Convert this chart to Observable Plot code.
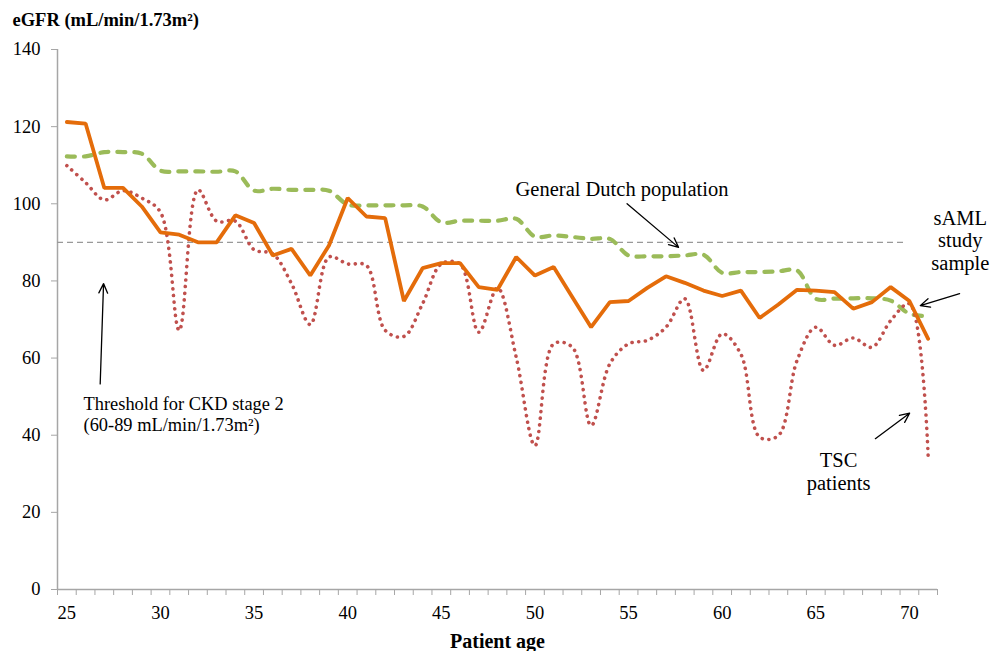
<!DOCTYPE html>
<html>
<head>
<meta charset="utf-8">
<script src="https://cdn.jsdelivr.net/npm/d3@7"></script>
<script src="https://cdn.jsdelivr.net/npm/@observablehq/plot@0.6"></script>
<style>
  html, body { margin: 0; padding: 0; background: #fff; }
  svg { display: block; }
</style>
</head>
<body>
<div id="chart"></div>
<script>
// Categories: patient age
const ages = [25,26,27,28,29,30,31,32,33,34,35,36,37,38,39,40,41,42,43,44,45,46,47,48,49,50,51,52,53,54,55,56,57,58,59,60,61,62,63,64,65,66,67,68,69,70,71];

// eGFR (mL/min/1.73m²) series
const samlStudy = [121.2,120.8,104.1,104.1,99.3,92.6,92.0,90.0,90.0,97.0,95.0,86.6,88.3,81.4,89.2,101.5,96.7,96.3,74.8,83.3,84.6,84.6,78.4,77.7,86.2,81.4,83.6,75.8,68.0,74.5,74.8,78.2,81.2,79.5,77.5,76.1,77.5,70.4,73.9,77.7,77.5,77.1,72.8,74.5,78.4,74.8,65.0];
const dutchPopulation = [112.3,112.3,113.4,113.4,113.0,108.6,108.4,108.4,108.3,108.4,103.4,103.9,103.6,103.6,103.4,99.8,99.6,99.6,99.6,99.3,95.2,95.6,95.6,95.6,96.1,91.5,91.8,91.4,90.9,90.9,86.6,86.4,86.4,86.6,86.8,82.1,82.3,82.3,82.5,82.7,75.4,75.4,75.5,75.5,74.9,71.5,70.9];
const tscPatients = [109.9,105.5,101.0,103.4,101.5,97.8,67.2,103.6,95.5,95.5,88.1,87.0,79.3,68.7,86.2,84.4,84.0,67.2,65.6,74.1,84.4,84.4,66.7,78.2,60.2,37.3,63.7,62.8,42.5,58.5,63.7,64.6,68.0,75.4,56.8,66.3,61.0,39.5,39.9,59.4,68.0,63.3,65.2,62.8,69.7,74.1,34.7];

// Tick labels
const xTickLabels = [25,30,35,40,45,50,55,60,65,70];
const yTickLabels = [0,20,40,60,80,100,120,140];

// Threshold (CKD stage 2)
const thresholdValue = [90];
const thresholdEnd = 69.8;

// Annotations (in data units: age, eGFR)
const textNotes = [
  {x: 54.65, y: 103.6, text: "General Dutch population", anchor: "middle"},
  {x: 72.72, y: 96.2, text: "sAML", anchor: "middle"},
  {x: 72.72, y: 90.4, text: "study", anchor: "middle"},
  {x: 72.72, y: 84.5, text: "sample", anchor: "middle"},
  {x: 66.22, y: 33.4, text: "TSC", anchor: "middle"},
  {x: 66.22, y: 27.5, text: "patients", anchor: "middle"},
  {x: 25.89, y: 48.1, text: "Threshold for CKD stage 2", anchor: "start"},
  {x: 25.89, y: 42.5, text: "(60-89 mL/min/1.73m²)", anchor: "start"}
];
const arrowNotes = [
  {x1: 54.92, y1: 100.0, x2: 57.67, y2: 88.7},
  {x1: 72.68, y1: 76.7, x2: 70.58, y2: 73.6},
  {x1: 68.18, y1: 39.1, x2: 70.01, y2: 45.7},
  {x1: 26.78, y1: 53.3, x2: 26.96, y2: 79.3}
];

const toRows = vals => ages.map((a, i) => ({age: a, v: vals[i]}));
const boundaries = [...ages.map(a => a - 0.5), ages[ages.length - 1] + 0.5];

const gray = "#a6a6a6";
const font = "Liberation Serif";

const chart = Plot.plot({
  width: 1002,
  height: 651,
  marginLeft: 57,
  marginRight: 65,
  marginTop: 49,
  marginBottom: 62,
  style: {background: "#fff", color: "#000", overflow: "visible"},
  x: {type: "linear", domain: [boundaries[0], boundaries[boundaries.length - 1]]},
  y: {domain: [0, 140]},
  marks: [
    // axes
    Plot.ruleX([boundaries[0]], {stroke: gray, strokeWidth: 1.5}),
    Plot.ruleY([0], {stroke: gray, strokeWidth: 1.5}),
    Plot.axisY(yTickLabels, {tickSize: 6, tickPadding: 11, stroke: gray, fill: "#000", fontSize: 18.5, fontFamily: font, label: null}),
    Plot.axisX(boundaries, {tickSize: 6, tickFormat: () => "", stroke: gray, label: null}),
    Plot.axisX(xTickLabels, {tickSize: 0, tickPadding: 16, fill: "#000", fontSize: 18.5, fontFamily: font, label: null}),
    // threshold
    Plot.ruleY(thresholdValue, {x1: boundaries[0], x2: thresholdEnd, stroke: "#999", strokeWidth: 1.3, strokeDasharray: "6,4"}),
    // series
    Plot.line(toRows(dutchPopulation), {x: "age", y: "v", stroke: "#9bbb59", strokeWidth: 4.2, strokeDasharray: "8,9", strokeLinecap: "round", curve: "catmull-rom"}),
    Plot.line(toRows(tscPatients), {x: "age", y: "v", stroke: "#c0504d", strokeWidth: 3.6, strokeDasharray: "0.1,6.6", strokeLinecap: "round", curve: "catmull-rom"}),
    Plot.line(toRows(samlStudy), {x: "age", y: "v", stroke: "#e46c0a", strokeWidth: 3.8, strokeLinejoin: "miter"}),
    // annotations
    Plot.arrow(arrowNotes, {x1: "x1", y1: "y1", x2: "x2", y2: "y2", stroke: "#000", strokeWidth: 1.3, headLength: 12, headAngle: 50}),
    Plot.text(textNotes.filter(d => d.anchor === "middle"), {x: "x", y: "y", text: "text", textAnchor: "middle", fontSize: 20.5, fontFamily: font, fill: "#000"}),
    Plot.text(textNotes.filter(d => d.anchor === "start"), {x: "x", y: "y", text: "text", textAnchor: "start", fontSize: 18.4, fontFamily: font, fill: "#000"}),
    // titles
    Plot.text(["eGFR (mL/min/1.73m²)"], {frameAnchor: "top-left", lineAnchor: "middle", dx: -45, dy: -29, textAnchor: "start", fontSize: 18.5, fontWeight: "bold", fontFamily: font, fill: "#000"}),
    Plot.text(["Patient age"], {frameAnchor: "bottom", lineAnchor: "middle", dy: 52, fontSize: 20, fontWeight: "bold", fontFamily: font, fill: "#000"})
  ]
});
chart.querySelectorAll("text").forEach(t => t.style.fontFamily = "'Liberation Serif', serif");
document.getElementById("chart").appendChild(chart);
</script>
</body>
</html>
